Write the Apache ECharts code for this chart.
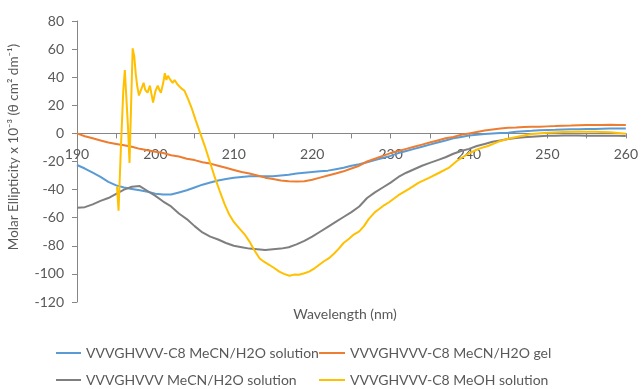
<!DOCTYPE html>
<html><head><meta charset="utf-8">
<script src="https://cdn.jsdelivr.net/npm/echarts@6/dist/echarts.min.js"></script>
<style>html,body{margin:0;padding:0;background:#fff}#c{width:641px;height:389px}</style>
</head><body><div id="c"></div>
<script>
const seriesNames = ['VVVGHVVV-C8 MeCN/H2O solution','VVVGHVVV-C8 MeCN/H2O gel','VVVGHVVV MeCN/H2O solution','VVVGHVVV-C8 MeOH solution'];
const wavelengths = [190,191,192,193,194,195,196,197,198,199,200,201,202,203,204,205,206,207,208,209,210,211,212,213,214,215,216,217,218,219,220,221,222,223,224,225,226,227,228,229,230,231,232,233,234,235,236,237,238,239,240,241,242,243,244,245,246,247,248,249,250,251,252,253,254,255,256,257,258,259,260];
const c8MeCNSolution = [-22.5,-25,-28,-31,-34.5,-37,-38.5,-39.5,-40.5,-41.5,-43,-43.5,-43.5,-42,-40.5,-38.5,-36.5,-35,-33.5,-32.5,-31.5,-31,-30.5,-30.5,-30.5,-30.5,-30,-29.5,-28.5,-28,-27.5,-27,-26.5,-25.5,-24.5,-23,-22,-20.5,-19,-17.5,-16,-14,-12.5,-11,-9.5,-8,-6.5,-5,-3.5,-2.5,-1.5,-1,-0.5,0,0.3,0.5,1.2,1.5,1.8,2.2,2.5,2.6,2.8,2.9,3,3.1,3.2,3.3,3.4,3.5,3.5];
const c8MeCNGel = [0,-2,-3.5,-5,-6.5,-7.5,-8.5,-9.5,-11,-12,-13,-14,-15.5,-16.5,-18,-19,-20.5,-21.5,-23,-24.5,-26,-27.5,-28.5,-30,-31.5,-32.5,-33.5,-34,-34.3,-34,-33,-31.5,-30,-28.5,-27,-25,-23,-20,-18,-16,-14,-12.5,-11,-9.5,-8,-6.5,-5,-3.5,-2.5,-1,0,1,2,2.8,3.5,4,4.2,4.5,4.7,4.8,5,5.2,5.5,5.6,5.8,6,6,6,6.2,6,6];
const noC8MeCNSolution = [-53,-52.5,-50.5,-48,-46,-43,-40,-38,-37.5,-41,-44.5,-48.5,-52,-57,-61,-66,-70.5,-73.5,-75.5,-78,-80,-81,-82,-82.5,-83,-82.5,-82,-81,-79,-76.5,-73.5,-70,-66.5,-63,-59.5,-56,-52,-46,-42,-38.5,-35,-31,-28,-25.5,-23,-21,-19,-17,-14.5,-12.5,-11,-9,-7.5,-6,-5,-4,-3.2,-2.7,-2.3,-2,-1.7,-1.6,-1.5,-1.5,-1.5,-1.6,-1.6,-1.6,-1.7,-1.7,-1.8];
const meohWavelengths = [195.1,195.3,195.6,195.9,196.1,196.3,196.5,196.7,196.9,197.1,197.3,197.5,197.7,197.9,198.1,198.3,198.5,198.7,199.0,199.3,199.5,199.7,200.0,200.3,200.5,200.7,201.0,201.2,201.4,201.6,201.8,202.0,202.2,202.45,202.8,203.3,203.7,204.2,204.6,205.1,205.6,206.3,206.9,207.5,208.2,208.8,209.4,210.0,210.7,211.4,212.0,212.6,213.3,213.9,214.5,215.2,215.8,216.4,217.1,217.7,218.3,219.0,219.6,220.3,220.9,221.5,222.1,222.8,223.4,224.0,224.7,225.3,226.0,226.6,227.2,228.0,228.5,229.2,229.8,231.0,232.3,233.6,234.9,236.2,237.4,238.6,239.9,241.2,242.5,243.7,245.0,246.5,248,250,252,254,256,258,260];
const c8MeOHSolution = [-38,-55,-10,30,45,44,5,-21,20,60.5,55,42,33,27,26,33,36,31,29,34,28,22,30,34,31,29,36,42.8,38,41,39,40,36,38,35,32,30.5,24,18.4,10,2,-9,-19.5,-30,-41,-50,-57.6,-63,-67.6,-72,-77,-83,-89,-91.5,-93.5,-96,-98.4,-100,-101.3,-100.5,-100.6,-99.5,-98.4,-96,-93.5,-91,-89,-85.5,-82,-78,-75,-72,-69.7,-66,-61,-56,-54,-51,-49,-44,-39.6,-35,-31.7,-28,-24.6,-19,-14.5,-11,-8.8,-6,-3.8,-2,-0.5,0.5,1,1.2,1.2,0.8,-0.2];
const yTicks = {min:-120, max:80, step:20};
const xTicks = {min:190, max:260, step:5};

const pair = (xs, ys) => xs.map((x,i)=>[x, ys[i]]);
const colors = ['#5B9BD5','#ED7D31','#7F7F7F','#FFC000'];
const font = 'Lato, "Open Sans", sans-serif';
const W = 641, H = 389;
const gridBox = {left:77, right:13, top:21, bottom:87};
const plotH = H - gridBox.top - gridBox.bottom;
// move the x axis up to the y = 0 line (as in the source chart)
const xAxisOffset = -plotH * (0 - yTicks.min) / (yTicks.max - yTicks.min);
const chart = echarts.init(document.getElementById('c'), null, {renderer:'canvas'});
const mk = (i, data) => ({name: seriesNames[i], type:'line', data, symbol:'none', smooth:false,
  lineStyle:{width:2, color:colors[i]}, itemStyle:{color:colors[i]}, z: 2+i, animation:false});
const legendBase = {orient:'vertical', top:346, padding:0, height:60, itemHeight:14, itemGap:13, selectedMode:false,
  itemStyle:{opacity:0}, lineStyle:{width:2},
  textStyle:{color:'#595959', fontSize:14, fontFamily:font}};
chart.setOption({
  animation:false,
  grid:Object.assign({containLabel:false}, gridBox),
  xAxis:{type:'value', min:xTicks.min, max:xTicks.max, interval:xTicks.step, position:'bottom', offset:xAxisOffset,
    axisLine:{onZero:false, lineStyle:{color:'#868686', width:1}},
    axisTick:{show:true, length:5, inside:false, lineStyle:{color:'#868686'}},
    axisLabel:{margin:14, color:'#595959', fontSize:14, fontFamily:font,
      formatter:v => (v % 10 === 0 ? String(v) : '')},
    splitLine:{show:false}},
  yAxis:{type:'value', min:yTicks.min, max:yTicks.max, interval:yTicks.step,
    axisLine:{show:true, onZero:false, lineStyle:{color:'#868686', width:1}},
    axisTick:{show:true, length:5, lineStyle:{color:'#868686'}},
    axisLabel:{margin:13, color:'#595959', fontSize:14, fontFamily:font},
    splitLine:{show:false}},
  legend:[
    Object.assign({}, legendBase, {data:[seriesNames[0], seriesNames[2]], left:55, itemWidth:25}),
    Object.assign({}, legendBase, {data:[seriesNames[1], seriesNames[3]], left:318, itemWidth:26})
  ],
  graphic:[
    {type:'text', x:345, y:314, style:{text:'Wavelength (nm)', fontSize:14, fontFamily:font, fill:'#595959', align:'center', verticalAlign:'middle'}},
    {type:'text', x:14, y:147, rotation:Math.PI/2, style:{text:'Molar Ellipticity x 10⁻³ (θ cm² dm⁻¹)', fontSize:13.5, fontFamily:font, fill:'#595959', align:'center', verticalAlign:'middle'}}
  ],
  series:[
    mk(0, pair(wavelengths, c8MeCNSolution)),
    mk(1, pair(wavelengths, c8MeCNGel)),
    mk(2, pair(wavelengths, noC8MeCNSolution)),
    mk(3, pair(meohWavelengths, c8MeOHSolution))
  ]
});
</script></body></html>
